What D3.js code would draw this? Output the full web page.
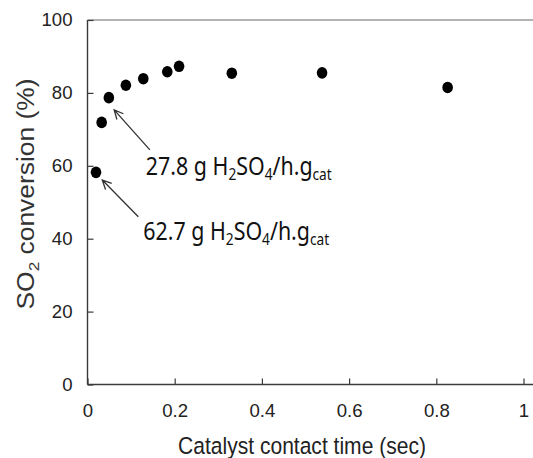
<!DOCTYPE html>
<html>
<head>
<meta charset="utf-8">
<script src="https://cdn.jsdelivr.net/npm/d3@7"></script>
<style>
  html, body { margin: 0; padding: 0; background: #fff; }
  svg { display: block; }
</style>
</head>
<body>
<svg id="chart" width="533" height="458"></svg>
<script>
// Catalyst contact time (s) and SO2 conversion (%)
const contactTime = [0.0195, 0.0325, 0.049, 0.088, 0.128, 0.183, 0.21, 0.331, 0.538, 0.826];
const conversion  = [58.2, 71.9, 78.7, 82.1, 83.9, 85.8, 87.3, 85.4, 85.5, 81.5];

const xTickValues = [0, 0.2, 0.4, 0.6, 0.8, 1];
const xTickLabels = ["0", "0.2", "0.4", "0.6", "0.8", "1"];
const yTickValues = [0, 20, 40, 60, 80, 100];
const yTickLabels = ["0", "20", "40", "60", "80", "100"];

// Space velocity notes pointing at two of the measurements
const noteRates  = ["27.8", "62.7"];
const notePoints = [2, 0];

const svg = d3.select("#chart");
const x = d3.scaleLinear().domain([0, 1]).range([87.5, 523.5]);
const y = d3.scaleLinear().domain([0, 100]).range([384.5, 20]);

const axisColor = "#3a3a3a";
const labelFont = "'Liberation Sans', Arial, sans-serif";
const noteFont = "'Noto Sans', 'Open Sans', sans-serif";

// squeeze a text horizontally to a given width, keeping its anchor point
function fitWidth(sel, ax, ay, width) {
  const w = sel.node().getComputedTextLength();
  const k = width / w;
  sel.attr("transform", `translate(${ax},${ay}) scale(${k},1) translate(${-ax},${-ay})`);
}

// frame: grey top edge, extends past the right side of the view
svg.append("line")
  .attr("x1", x(0)).attr("x2", 545)
  .attr("y1", y(100)).attr("y2", y(100))
  .attr("stroke", "#9a9a9a").attr("stroke-width", 1.4);

// x axis
const xAxis = d3.axisBottom(x)
  .tickValues(xTickValues)
  .tickFormat((d, i) => xTickLabels[i])
  .tickSizeInner(-6).tickSizeOuter(0).tickPadding(19);
const gx = svg.append("g").attr("transform", `translate(0,${y(0)})`).call(xAxis);
gx.select(".domain").remove();
gx.selectAll(".tick line").attr("stroke", axisColor).attr("stroke-width", 1.2);
gx.selectAll(".tick text")
  .attr("font-family", labelFont).attr("font-size", 18.6).attr("fill", "#222");
svg.append("line")
  .attr("x1", x(0)).attr("x2", 545)
  .attr("y1", y(0)).attr("y2", y(0))
  .attr("stroke", axisColor).attr("stroke-width", 1.4);

// y axis
const yAxis = d3.axisLeft(y)
  .tickValues(yTickValues)
  .tickFormat((d, i) => yTickLabels[i])
  .tickSizeInner(-6).tickSizeOuter(0).tickPadding(15);
const gy = svg.append("g").attr("transform", `translate(${x(0)},0)`).call(yAxis);
gy.select(".domain").remove();
gy.selectAll(".tick line").attr("stroke", axisColor).attr("stroke-width", 1.2);
gy.selectAll(".tick text")
  .attr("font-family", labelFont).attr("font-size", 18.6).attr("fill", "#222");
svg.append("line")
  .attr("x1", x(0)).attr("x2", x(0))
  .attr("y1", y(100)).attr("y2", y(0))
  .attr("stroke", axisColor).attr("stroke-width", 1.4);

// axis titles
const xt = svg.append("text")
  .attr("x", 302).attr("y", 454)
  .attr("text-anchor", "middle")
  .attr("font-family", labelFont).attr("font-size", 23.5).attr("fill", "#222")
  .text("Catalyst contact time (sec)");
fitWidth(xt, 302, 454, 248);

const ytg = svg.append("g").attr("transform", "translate(33.5,194) rotate(-90)");
const yt = ytg.append("text")
  .attr("x", 0).attr("y", 0)
  .attr("text-anchor", "middle")
  .attr("font-family", labelFont).attr("font-size", 23).attr("fill", "#333");
yt.append("tspan").text("SO");
yt.append("tspan").attr("font-size", 15).attr("dy", 5).text("2");
yt.append("tspan").attr("dy", -5).text(" conversion (%)");
fitWidth(yt, 0, 0, 231);

// measurements
svg.append("g").selectAll("ellipse")
  .data(contactTime)
  .join("ellipse")
  .attr("cx", d => x(d))
  .attr("cy", (d, i) => y(conversion[i]))
  .attr("rx", 5.3).attr("ry", 5.8)
  .attr("fill", "#000");

// notes with open-headed arrows
const arrowOffsets = [{hx: 5.3, hy: 12.3, tx: 41, ty: 52.3}, {hx: 6.3, hy: 7.7, tx: 42.3, ty: 44.4}];
const textOffsets = [{dx: 37, dy: 77.3}, {dx: 47.3, dy: 67.7}];
const headLen = 10, headAngle = Math.PI / 7;

noteRates.forEach((rate, k) => {
  const i = notePoints[k];
  const px = x(contactTime[i]), py = y(conversion[i]);
  const a = arrowOffsets[k];
  const hx = px + a.hx, hy = py + a.hy, tx = px + a.tx, ty = py + a.ty;
  const ang = Math.atan2(ty - hy, tx - hx);
  svg.append("path")
    .attr("d", d3.line()([
      [hx + headLen * Math.cos(ang - headAngle), hy + headLen * Math.sin(ang - headAngle)],
      [hx, hy],
      [hx + headLen * Math.cos(ang + headAngle), hy + headLen * Math.sin(ang + headAngle)]
    ]) + "M" + hx + "," + hy + "L" + tx + "," + ty)
    .attr("fill", "none").attr("stroke", "#333").attr("stroke-width", 1.3)
    .attr("stroke-linejoin", "miter");

  const t = textOffsets[k];
  const ax = px + t.dx, ay = py + t.dy;
  const txt = svg.append("text")
    .attr("x", ax).attr("y", ay)
    .attr("font-family", noteFont).attr("font-size", 25).attr("fill", "#111");
  txt.append("tspan").text(rate + " g H");
  txt.append("tspan").attr("font-size", 16).attr("dy", 5).text("2");
  txt.append("tspan").attr("dy", -5).text("SO");
  txt.append("tspan").attr("font-size", 16).attr("dy", 5).text("4");
  txt.append("tspan").attr("dy", -5).text("/h.g");
  txt.append("tspan").attr("font-size", 16).attr("dy", 5).text("cat");
  fitWidth(txt, ax, ay, 186);
});
</script>
</body>
</html>
